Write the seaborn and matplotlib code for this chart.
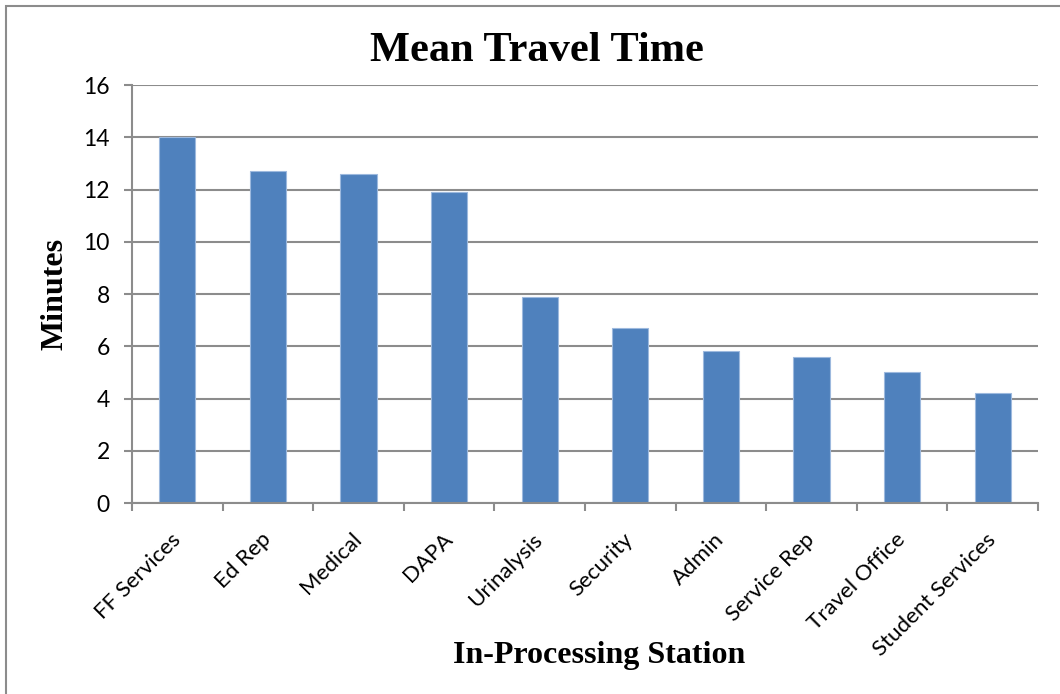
import matplotlib
matplotlib.use("Agg")
import matplotlib.pyplot as plt
from matplotlib.patches import Rectangle
import seaborn as sns
import pandas as pd
import numpy as np

stations = ["FF Services", "Ed Rep", "Medical", "DAPA", "Urinalysis",
            "Security", "Admin", "Service Rep", "Travel Office", "Student Services"]
minutes = [14.0, 12.7, 12.6, 11.9, 7.9, 6.7, 5.8, 5.6, 5.0, 4.2]
y_ticks = [0, 2, 4, 6, 8, 10, 12, 14, 16]

sns.set_theme(style="white")
plt.rcParams["font.family"] = ["Lato", "DejaVu Sans"]
plt.rcParams["text.color"] = "black"
plt.rcParams["xtick.color"] = "black"
plt.rcParams["ytick.color"] = "black"
plt.rcParams["axes.labelcolor"] = "black"

df = pd.DataFrame({"station": stations, "minutes": minutes})

fig = plt.figure(figsize=(10.6, 6.94), dpi=100)
ax = fig.add_axes([0.1245, 0.2752, 0.9792 - 0.1245, 0.8775 - 0.2752])

grid_c = "#8c8c8c"
ax.set_axisbelow(True)
ax.yaxis.grid(True, color=grid_c, linewidth=1.5)

sns.barplot(data=df, x="station", y="minutes", color="#4F81BD", width=0.4,
            saturation=1, edgecolor="#9DB9DE", linewidth=0.8, ax=ax)

ax.set_ylim(0, 16)
ax.set_xlim(-0.5, len(stations) - 0.5)
ax.set_yticks(y_ticks)
ax.set_yticklabels([str(t) for t in y_ticks], fontsize=16.5)

# category labels on major ticks (hidden marks), boundary ticks as minor
ax.set_xticks(range(len(stations)))
ax.set_xticklabels(stations, rotation=45, ha="right", va="center",
                   rotation_mode="anchor", fontsize=16)
ax.set_xticks(np.arange(-0.5, len(stations), 1.0), minor=True)
ax.tick_params(axis="x", which="major", bottom=True, length=0, pad=24)
ax.tick_params(axis="x", which="minor", bottom=True, length=6, width=1.5,
               color=grid_c, direction="out")
ax.tick_params(axis="y", which="major", left=True, length=6, width=1.5,
               color=grid_c, labelcolor="black", direction="out", pad=10)

for s in ["top", "right"]:
    ax.spines[s].set_visible(False)
for s in ["left", "bottom"]:
    ax.spines[s].set_color(grid_c)
    ax.spines[s].set_linewidth(1.5)

serif = ["Liberation Serif", "DejaVu Serif"]
ax.set_xlabel("")
ax.set_ylabel("Minutes", fontsize=23, fontweight="bold", family=serif, labelpad=10)
fig.text(0.565, 0.056, "In-Processing Station", ha="center", va="center",
         fontsize=23, fontweight="bold", family=serif)
fig.text(0.507, 0.927, "Mean Travel Time", ha="center", va="center",
         fontsize=30.5, fontweight="bold", family=serif)

# chart frame, open at the right and bottom edges
fig.patches.append(Rectangle((6 / 1060, -0.1), 1.2, 1 - 6 / 694 + 0.1,
                             transform=fig.transFigure, fill=False,
                             edgecolor="#8c8c8c", linewidth=1.5))

fig.savefig("out.png", dpi=100, facecolor="white")
